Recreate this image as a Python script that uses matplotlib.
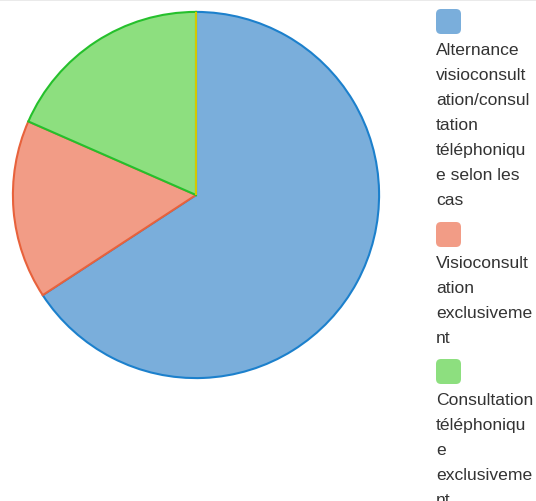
import matplotlib.pyplot as plt
from matplotlib.patches import FancyBboxPatch
from matplotlib.lines import Line2D

labels = [
    "Alternance visioconsultation/consultation téléphonique selon les cas",
    "Visioconsultation exclusivement",
    "Consultation téléphonique exclusivement",
    "",
]
counts = [25, 6, 7, 0]

# wrapped legend text, one entry per line
legend_lines = [
    ["Alternance", "visioconsult", "ation/consul", "tation", "téléphoniqu", "e selon les", "cas"],
    ["Visioconsult", "ation", "exclusiveme", "nt"],
    ["Consultation", "téléphoniqu", "e", "exclusiveme", "nt"],
]

fills = ["#7aaedb", "#f29c86", "#8ddf7f", "#d4c800"]
edges = ["#1c80cc", "#e8623c", "#25c02c", "#d4c800"]

W, H = 536, 502
fig = plt.figure(figsize=(W / 100, H / 100), dpi=100)
plt.rcParams['font.family'] = ['Liberation Sans', 'DejaVu Sans']

# pie area: 368 px square, centred at (196, 196)
ax = fig.add_axes([12 / W, 1 - 380 / H, 368 / W, 368 / H])
wedges, _ = ax.pie(counts, colors=fills, startangle=90, counterclock=False,
                   wedgeprops=dict(linewidth=1.5))
for w, ec in zip(wedges, edges):
    w.set_edgecolor(ec)
ax.set_aspect('equal')
ax.set_xlim(-1.005, 1.005)
ax.set_ylim(-1.005, 1.005)
ax.axis('off')

# thin border along the top
fig.add_artist(Line2D([0, 1], [1 - 0.8 / H, 1 - 0.8 / H], color="#e6e6e6", linewidth=1.2,
                      transform=fig.transFigure))

# legend: rounded swatch, then the wrapped label underneath
box_tops = [10, 223, 360]
for top, lines, color in zip(box_tops, legend_lines, fills):
    sq = FancyBboxPatch(((436 + 3) / W, 1 - (top + 25 - 3) / H), 19 / W, 19 / H,
                        boxstyle="round,pad=0,rounding_size=0.008",
                        transform=fig.transFigure, facecolor=color, edgecolor="none",
                        mutation_aspect=W / H)
    sq.set_boxstyle("round", pad=3 / W, rounding_size=5 / W)
    fig.add_artist(sq)
    for i, line in enumerate(lines):
        y = top + 45 + 25 * i
        fig.text(436 / W, 1 - y / H, line, fontsize=12.6, color="#333333",
                 ha='left', va='baseline')

fig.savefig("out.png", dpi=100)
